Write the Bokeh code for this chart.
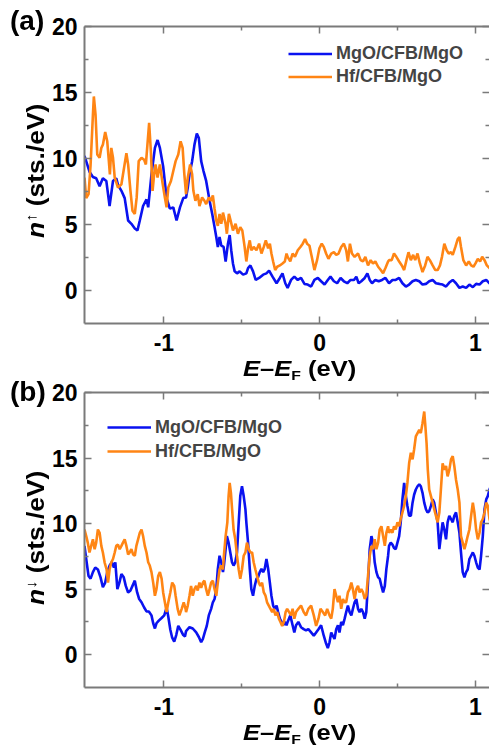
from bokeh.plotting import figure
from bokeh.models import Range1d, FixedTicker, LinearAxis, Legend, LegendItem, Div
from bokeh.layouts import column
from bokeh.embed import file_html
from bokeh.resources import INLINE

# ---------------- data (energy in eV, DOS in states/eV) ----------------
e_up_mgo = [-1.510,-1.478,-1.456,-1.435,-1.413,-1.392,-1.370,-1.349,-1.327,-1.306,
            -1.295,-1.273,-1.252,-1.230,-1.209,-1.187,-1.170,-1.155,-1.134,-1.112,
            -1.101,-1.080,-1.058,-1.041,-1.026,-1.005,-0.983,-0.962,-0.940,-0.919,
            -0.897,-0.876,
            -0.858,-0.847,-0.836,-0.819,-0.804,-0.789,-0.776,-0.761,-0.746,-0.729,
            -0.718,-0.707,-0.690,-0.675,-0.664,-0.654,-0.643,-0.632,-0.617,-0.604,
            -0.589,-0.578,-0.568,-0.557,-0.546,-0.531,-0.514,-0.492,-0.471,-0.460,
            -0.445,-0.428,-0.411,-0.389,-0.363,-0.342,-0.325,-0.303,-0.277,-0.256,
            -0.239,-0.221,
            -0.206,-0.184,-0.163,-0.141,-0.120,-0.098,-0.077,-0.055,-0.034,-0.012,
            0.009,0.031,0.052,0.069,0.091,0.112,0.134,0.155,0.177,0.198,
            0.220,0.235,0.250,0.267,0.289,0.306,0.321,0.336,0.357,0.379,
            0.400,0.422,
            0.445,0.467,0.488,0.510,0.531,0.553,0.574,0.596,0.617,0.639,
            0.660,0.682,0.703,0.725,0.746,0.768,0.789,0.811,0.832,0.854,
            0.875,0.897,0.918,0.940,0.961,0.983,1.004,1.026,1.047,1.069,
            1.090,1.103]
n_up_mgo = [10.2,9.0,8.6,8.5,7.9,8.5,8.3,6.4,8.3,8.5,
            8.0,7.55,7.0,5.3,5.05,4.7,4.55,5.3,6.4,6.9,
            6.3,8.8,10.8,11.4,10.8,9.4,7.0,6.2,6.3,5.3,
            6.3,7.0,
            7.05,7.8,8.8,9.8,11.05,11.9,11.55,9.8,9.05,8.3,
            7.55,6.8,5.8,4.8,4.05,3.3,4.05,3.4,3.3,2.2,
            3.55,4.2,3.05,2.05,1.45,1.3,1.45,1.2,1.3,1.7,
            1.9,1.45,0.8,0.95,1.2,1.3,1.5,1.05,0.55,0.95,
            1.3,0.55,
            0.2,0.8,1.05,0.8,0.95,0.5,0.45,0.3,0.8,0.95,
            0.7,0.45,0.8,1.05,0.7,0.55,0.95,0.7,0.55,0.8,
            0.8,1.05,0.55,0.7,0.95,1.3,0.8,0.55,0.8,0.7,
            0.8,0.95,
            0.55,0.8,0.8,0.95,0.55,0.3,0.45,0.7,0.8,0.7,
            0.45,0.5,0.7,0.8,0.55,0.5,0.45,0.3,0.6,0.8,
            0.55,0.2,0.3,0.2,0.45,0.25,0.5,0.45,0.7,0.8,
            0.55,0.5]

e_up_hf = [-1.510,-1.499,-1.484,-1.471,-1.456,-1.450,-1.439,-1.428,-1.413,-1.402,
           -1.392,-1.377,-1.364,-1.355,-1.347,-1.338,-1.327,-1.316,-1.306,-1.295,
           -1.273,-1.256,-1.241,-1.230,-1.215,-1.202,-1.187,-1.175,-1.162,-1.144,
           -1.127,-1.116,-1.106,-1.095,-1.084,-1.073,-1.063,-1.054,-1.041,-1.026,
           -1.011,-0.994,-0.983,-0.972,-0.955,-0.940,-0.925,-0.908,-0.893,-0.880,
           -0.869,
           -0.858,-0.847,-0.832,-0.819,-0.811,-0.798,-0.783,-0.772,-0.755,-0.740,
           -0.729,-0.712,-0.697,-0.686,-0.675,-0.664,-0.654,-0.643,-0.632,-0.621,
           -0.604,-0.596,-0.583,-0.572,-0.557,-0.540,-0.525,-0.510,-0.497,-0.482,
           -0.471,-0.460,-0.449,-0.439,-0.424,-0.406,-0.389,-0.374,-0.359,-0.346,
           -0.331,-0.320,-0.310,-0.299,-0.286,-0.273,-0.256,-0.239,-0.224,-0.213,
           -0.206,-0.189,-0.174,-0.159,-0.141,-0.124,-0.109,-0.094,-0.081,-0.066,
           -0.051,-0.034,-0.017,-0.002,0.013,0.026,0.041,0.056,0.074,0.091,
           0.106,0.121,0.138,0.155,0.170,0.181,0.194,0.207,0.224,0.246,
           0.263,0.278,0.293,0.310,0.327,0.342,0.357,0.375,0.392,0.407,
           0.422,0.439,
           0.445,0.462,0.477,0.492,0.510,0.527,0.542,0.557,0.570,0.585,
           0.600,0.613,0.628,0.643,0.660,0.677,0.692,0.707,0.725,0.742,
           0.757,0.772,0.785,0.800,0.815,0.828,0.843,0.854,0.871,0.886,
           0.897,0.907,0.922,0.940,0.957,0.972,0.987,1.000,1.015,1.030,
           1.043,1.058,1.073,1.090,1.103]
n_up_hf = [8.55,7.0,7.3,9.5,13.3,14.7,13.3,10.3,10.05,10.8,
           11.05,12.0,11.3,10.0,8.8,10.8,10.05,8.55,8.2,7.8,
           8.05,9.3,10.4,9.55,7.55,6.05,5.8,7.05,9.8,10.05,
           9.9,9.55,11.05,12.7,10.55,7.55,8.8,9.55,8.55,9.55,
           8.3,7.05,6.3,7.8,8.3,9.05,9.8,10.3,11.3,10.8,
           8.8,
           7.3,8.55,9.55,8.8,7.55,6.8,7.3,6.4,7.05,6.8,
           6.55,7.05,6.8,7.2,6.2,5.3,4.9,5.8,5.05,5.9,
           5.05,4.3,5.8,5.3,4.55,5.05,4.3,4.8,4.55,3.3,
           2.2,3.2,3.8,3.05,3.3,3.05,3.55,2.8,3.3,3.8,
           3.2,3.55,2.8,2.2,1.55,1.8,1.9,2.05,2.2,2.8,
           2.55,2.2,2.8,2.55,3.05,3.3,3.55,3.9,3.55,3.4,
           2.55,1.55,2.3,3.2,3.55,3.3,2.8,2.4,2.8,2.9,
           2.7,2.8,3.3,3.55,3.05,2.2,3.55,2.8,2.55,2.8,
           2.3,2.2,2.55,1.9,2.3,2.05,2.2,1.8,1.55,1.3,
           1.7,2.2,
           2.3,2.3,2.8,2.55,2.2,1.9,1.55,2.3,2.9,2.3,
           2.7,2.3,2.8,2.05,1.4,1.9,2.55,2.3,1.9,1.55,
           1.55,1.9,2.55,3.55,3.05,2.8,2.9,2.7,3.3,3.9,
           4.05,3.3,2.3,1.9,2.2,1.9,1.8,2.05,2.4,2.2,
           2.55,2.3,1.9,1.7,1.55]

e_dn_mgo = [-1.510,-1.499,-1.484,-1.471,-1.456,-1.441,-1.424,-1.407,-1.392,-1.377,
            -1.364,-1.349,-1.334,-1.321,-1.312,-1.299,-1.286,-1.273,-1.258,-1.245,
            -1.230,-1.215,-1.202,-1.187,-1.172,-1.159,-1.144,-1.127,-1.112,-1.097,
            -1.080,-1.069,-1.058,-1.048,-1.033,-1.015,-0.998,-0.983,-0.972,-0.959,
            -0.947,-0.934,-0.921,-0.908,-0.893,-0.876,-0.865,
            -0.858,-0.836,-0.815,-0.793,-0.776,-0.761,-0.750,-0.738,-0.725,-0.712,
            -0.697,-0.686,-0.675,-0.664,-0.654,-0.643,-0.632,-0.621,-0.615,-0.604,
            -0.596,-0.585,-0.574,-0.563,-0.553,-0.542,-0.531,-0.520,-0.510,-0.499,
            -0.488,-0.477,-0.471,-0.460,-0.449,-0.439,-0.428,-0.417,-0.406,-0.396,
            -0.385,-0.374,-0.363,-0.353,-0.342,-0.331,-0.320,-0.310,-0.299,-0.288,
            -0.277,-0.267,-0.256,-0.245,-0.234,-0.224,-0.213,
            -0.206,-0.189,-0.174,-0.163,-0.152,-0.137,-0.120,-0.103,-0.088,-0.073,
            -0.055,-0.038,-0.023,-0.008,0.009,0.026,0.041,0.052,0.063,0.074,
            0.084,0.095,0.106,0.117,0.127,0.138,0.149,0.160,0.170,0.181,
            0.192,0.203,0.213,0.224,0.235,0.246,0.256,0.267,0.278,0.289,
            0.299,0.310,0.321,0.332,0.342,0.353,0.364,0.375,0.385,0.396,
            0.407,0.418,0.428,0.439,
            0.445,0.456,0.467,0.477,0.488,0.499,0.510,0.520,0.531,0.542,
            0.553,0.563,0.574,0.585,0.596,0.606,0.617,0.628,0.639,0.649,
            0.660,0.671,0.682,0.692,0.703,0.714,0.725,0.735,0.746,0.757,
            0.768,0.778,0.789,0.800,0.811,0.821,0.832,0.843,0.854,0.864,
            0.875,0.886,0.897,0.907,0.918,0.929,0.940,0.950,0.961,0.972,
            0.983,0.993,1.004,1.015,1.026,1.036,1.047,1.058,1.069,1.079,
            1.090,1.103]
n_dn_mgo = [8.3,7.3,6.0,5.8,6.3,6.65,6.5,5.9,5.15,5.5,
            6.3,6.8,7.05,6.65,7.05,5.0,5.5,6.15,5.9,5.25,
            4.75,4.9,5.25,5.65,4.75,4.25,4.0,3.6,3.3,3.3,
            3.0,2.4,2.0,2.4,2.6,2.8,3.0,3.6,2.9,1.9,
            1.3,1.0,1.5,2.2,1.9,1.5,1.4,
            1.8,2.1,2.0,1.7,1.35,0.95,1.2,1.7,2.2,3.0,
            3.5,4.0,4.25,5.0,6.55,7.55,7.05,6.3,6.8,8.05,
            9.05,8.55,7.8,7.05,6.8,7.05,7.8,10.1,12.1,12.85,
            12.1,11.1,10.1,8.55,6.55,5.0,4.5,5.25,5.8,5.9,
            6.3,6.55,6.3,6.55,7.3,6.55,5.5,4.5,3.75,3.5,
            3.75,3.25,2.75,2.5,2.25,2.5,2.25,
            2.5,3.0,2.25,1.7,2.25,2.5,2.1,1.95,1.85,1.95,
            1.7,1.45,1.7,1.95,2.25,1.45,0.85,0.5,0.95,1.7,
            1.45,1.2,1.95,2.25,1.7,2.5,2.25,2.75,3.25,3.75,
            3.25,3.0,3.5,4.0,4.25,3.5,3.25,3.5,3.25,2.75,
            3.25,5.5,8.05,9.05,8.55,7.05,6.3,5.9,5.8,5.25,
            4.75,5.25,6.55,7.55,
            8.3,8.55,8.4,8.15,8.05,8.55,9.05,10.1,11.85,13.1,
            12.1,11.35,10.6,10.6,11.6,12.2,12.6,12.85,13.0,12.85,
            12.35,11.6,11.1,10.85,10.95,11.35,11.85,11.6,10.85,10.1,
            8.05,9.05,10.1,9.55,8.8,10.1,10.6,10.35,10.1,10.6,
            10.85,10.1,9.3,7.8,6.3,5.9,6.3,6.5,7.3,7.55,
            7.8,7.55,7.05,6.65,6.5,7.55,9.05,11.1,11.85,12.1,
            12.6,13.0]

e_dn_hf = [-1.510,-1.499,-1.489,-1.478,-1.467,-1.456,-1.445,-1.435,-1.424,-1.413,
           -1.402,-1.392,-1.381,-1.368,-1.359,-1.349,-1.338,-1.327,-1.316,-1.306,
           -1.295,-1.284,-1.273,-1.263,-1.252,-1.241,-1.230,-1.220,-1.209,-1.198,
           -1.187,-1.177,-1.166,-1.155,-1.144,-1.134,-1.123,-1.112,-1.101,-1.091,
           -1.080,-1.069,-1.058,-1.048,-1.037,-1.026,-1.015,-1.005,-0.994,-0.983,
           -0.972,-0.959,-0.947,-0.934,-0.925,-0.912,-0.901,-0.886,-0.873,-0.861,
           -0.858,-0.847,-0.836,-0.826,-0.815,-0.804,-0.793,-0.783,-0.772,-0.761,
           -0.750,-0.740,-0.729,-0.718,-0.707,-0.697,-0.686,-0.675,-0.664,-0.654,
           -0.643,-0.632,-0.621,-0.615,-0.604,-0.593,-0.585,-0.578,-0.570,-0.561,
           -0.553,-0.542,-0.531,-0.520,-0.510,-0.499,-0.488,-0.477,-0.467,-0.456,
           -0.445,-0.434,-0.424,-0.413,-0.402,-0.391,-0.381,-0.370,-0.359,-0.348,
           -0.338,-0.327,-0.316,-0.305,-0.295,-0.284,-0.273,-0.262,-0.252,-0.241,
           -0.230,-0.219,-0.209,
           -0.184,-0.174,-0.163,-0.152,-0.137,-0.120,-0.103,-0.088,-0.073,-0.055,
           -0.038,-0.023,-0.008,0.005,0.020,0.035,0.048,0.063,0.074,0.084,
           0.095,0.106,0.117,0.127,0.138,0.149,0.160,0.170,0.181,0.192,
           0.203,0.213,0.224,0.235,0.246,0.256,0.267,0.278,0.289,0.299,
           0.310,0.321,0.332,0.342,0.353,0.364,0.375,0.385,0.396,0.407,
           0.418,0.428,0.439,
           0.445,0.456,0.467,0.477,0.488,0.499,0.510,0.520,0.531,0.542,
           0.553,0.563,0.574,0.585,0.596,0.606,0.617,0.628,0.639,0.649,
           0.660,0.671,0.677,0.686,0.694,0.703,0.714,0.725,0.735,0.746,
           0.757,0.768,0.778,0.789,0.800,0.811,0.821,0.832,0.843,0.854,
           0.864,0.875,0.886,0.897,0.907,0.918,0.929,0.940,0.950,0.961,
           0.972,0.983,0.993,1.004,1.015,1.026,1.036,1.047,1.058,1.069,
           1.079,1.090,1.103]
n_dn_hf = [9.55,9.05,8.55,7.8,8.3,8.8,8.05,8.55,9.55,9.3,
           8.3,7.8,7.05,6.5,5.5,6.5,7.05,7.3,7.8,8.3,
           8.4,8.05,8.3,8.55,8.8,8.3,7.65,7.8,8.05,7.65,
           7.55,8.3,8.8,9.3,9.55,9.05,8.3,7.8,7.05,6.8,
           6.3,5.5,4.5,5.0,6.0,6.3,5.8,4.75,4.0,3.25,
           4.0,4.75,5.5,5.25,4.5,3.5,3.0,3.5,4.0,3.5,
           3.25,3.75,4.5,5.25,4.5,5.0,5.25,4.9,5.5,5.1,
           5.5,5.65,5.0,4.5,5.0,5.5,5.65,5.0,4.5,5.5,
           6.5,6.8,6.5,7.55,9.05,10.1,12.1,13.1,12.35,10.85,
           9.55,8.8,7.55,6.5,5.8,6.5,7.55,7.8,8.55,8.05,
           7.8,7.8,7.05,6.5,6.0,5.5,5.25,5.5,4.75,4.5,
           4.0,3.75,3.5,3.25,3.5,3.0,3.25,2.75,2.5,2.2,
           2.5,3.25,3.5,
           3.0,3.5,2.75,3.25,3.5,3.75,3.25,3.0,3.5,3.75,
           3.0,2.2,2.75,3.5,3.25,3.0,3.5,3.0,2.75,3.5,
           5.0,4.5,4.0,4.5,3.5,4.25,4.0,4.0,4.75,5.0,
           5.5,5.0,4.25,5.0,5.25,4.75,5.0,4.75,4.25,4.5,
           6.0,7.55,8.3,8.05,8.8,8.05,8.55,9.55,9.8,9.05,
           8.3,9.3,9.8,
           9.3,9.55,9.3,9.8,9.55,10.1,9.8,10.35,10.85,11.35,
           12.1,13.1,14.6,15.4,14.9,15.65,16.65,16.9,17.15,16.9,
           17.65,18.55,17.65,16.15,14.1,12.6,12.1,11.6,11.1,10.6,
           10.1,10.85,12.6,14.6,14.1,14.4,13.6,14.1,14.9,15.15,
           14.4,13.35,12.6,11.6,9.05,8.55,8.05,8.55,9.05,9.55,
           10.6,11.6,10.85,9.55,8.8,9.3,10.1,10.35,10.85,11.6,
           11.35,10.35,9.8]

series_labels = ["MgO/CFB/MgO", "Hf/CFB/MgO"]
panel_tags = ["(a)", "(b)"]
x_tick_values = [-1, 0, 1]
x_tick_labels = ["-1", "0", "1"]
x_minor_values = [-0.5, 0.5]
y_tick_values = [0, 5, 10, 15, 20]
y_minor_values = [2.5, 7.5, 12.5, 17.5]

# ---------------- styling / geometry ----------------
BLUE = "#0a12f0"
ORANGE = "#ff8514"
GRAY = "#7a7a7a"
FONT = "Liberation Sans"
X_START, X_END = -1.51, 1.09
Y_START, Y_END = -2.5, 20.0
FIG_W = 489
H1, H2 = 380, 367


def style_axis(ax, show_labels):
    ax.axis_line_color = GRAY
    ax.axis_line_width = 2
    ax.major_tick_line_color = GRAY
    ax.major_tick_line_width = 1.5
    ax.minor_tick_line_color = GRAY
    ax.minor_tick_line_width = 1.5
    ax.major_tick_in = 7
    ax.major_tick_out = 0
    ax.minor_tick_in = 4
    ax.minor_tick_out = 0
    ax.major_label_text_font = FONT
    ax.major_label_text_font_style = "bold"
    ax.major_label_text_color = "black"
    if show_labels:
        ax.major_label_text_font_size = "23px"
    else:
        # mirrored axis: ticks only, labels invisible
        ax.major_label_text_font_size = "1px"
        ax.major_label_text_alpha = 0.0
        ax.major_label_standoff = 1


def make_panel(height, border_top, border_bottom, e_b, n_b, e_o, n_o, legend_loc, margin, row_h):
    p = figure(width=FIG_W, height=height, output_backend="svg", toolbar_location=None,
               x_range=Range1d(X_START, X_END), y_range=Range1d(Y_START, Y_END),
               min_border_left=84, min_border_right=0,
               min_border_top=border_top, min_border_bottom=border_bottom)
    p.outline_line_color = None
    p.xgrid.visible = False
    p.ygrid.visible = False
    p.background_fill_color = "white"
    p.border_fill_color = "white"
    xt = FixedTicker(ticks=x_tick_values, minor_ticks=x_minor_values)
    yt = FixedTicker(ticks=y_tick_values, minor_ticks=y_minor_values)
    for ax in p.xaxis:
        ax.ticker = xt
        style_axis(ax, True)
        ax.major_label_overrides = {v: s for v, s in zip(x_tick_values, x_tick_labels)}
        ax.major_label_standoff = 10
    for ax in p.yaxis:
        ax.ticker = yt
        style_axis(ax, True)
        ax.major_label_standoff = 7
    top = LinearAxis(ticker=FixedTicker(ticks=x_tick_values, minor_ticks=x_minor_values))
    style_axis(top, False)
    p.add_layout(top, "above")
    right = LinearAxis(ticker=FixedTicker(ticks=y_tick_values, minor_ticks=y_minor_values))
    style_axis(right, False)
    right.axis_line_color = None
    p.add_layout(right, "right")

    rb = p.line(e_b, n_b, line_color=BLUE, line_width=2.6)
    ro = p.line(e_o, n_o, line_color=ORANGE, line_width=2.6)
    lg = Legend(items=[LegendItem(label=series_labels[0], renderers=[rb]),
                       LegendItem(label=series_labels[1], renderers=[ro])],
                location=legend_loc, padding=0, margin=margin, spacing=0,
                glyph_width=44, glyph_height=row_h, label_height=row_h, label_width=137,
                label_standoff=4, label_text_font=FONT, label_text_font_style="bold",
                label_text_font_size="18px", border_line_color=None,
                background_fill_alpha=0.0)
    p.add_layout(lg)
    return p


p1 = make_panel(H1, 26, 57, e_up_mgo, n_up_mgo, e_up_hf, n_up_hf, "top_right", 16, 23)
p2 = make_panel(H2, 12, 60, e_dn_mgo, n_dn_mgo, e_dn_hf, n_dn_hf, "top_left", 23, 24)

# ---------------- rich-text labels (page-pixel positions) ----------------
BASE = "position:absolute;white-space:nowrap;font-family:'Liberation Sans',Arial,sans-serif;" \
       "font-weight:bold;color:black;"


def text_block(left, top, size, html, transform="none"):
    return (f'<div style="{BASE}left:{left}px;top:{top}px;font-size:{size}px;line-height:{size}px;'
            f'transform-origin:0 0;transform:{transform};">{html}</div>')


x_label_html = ("<i>E</i>&ndash;<i>E</i>"
                "<span style='font-size:0.62em;position:relative;top:0.32em'>F</span> (eV)")


def y_label_html(arrow):
    return (f"<i>n</i><span style='font-size:0.62em;position:relative;top:-0.55em'>{arrow}</span>"
            " (sts./eV)")


parts = [
    text_block(5, 2, 28, panel_tags[0]),
    text_block(5, 373, 28, panel_tags[1]),
    text_block(238, 353, 22, x_label_html, "scaleX(1.16)"),
    text_block(238, 717, 22, x_label_html, "scaleX(1.16)"),
    text_block(19, 233, 24, y_label_html("&uarr;"), "rotate(-90deg) scaleX(1.1)"),
    text_block(19, 600, 24, y_label_html("&darr;"), "rotate(-90deg) scaleX(1.1)"),
]
overlay = Div(text="".join(parts), width=489, height=749,
              styles={"position": "fixed", "left": "0px", "top": "0px",
                      "overflow": "visible", "pointer-events": "none", "z-index": "10"})

layout = column(p1, p2, overlay, spacing=0)
open("out.html", "w").write(file_html(layout, INLINE))
